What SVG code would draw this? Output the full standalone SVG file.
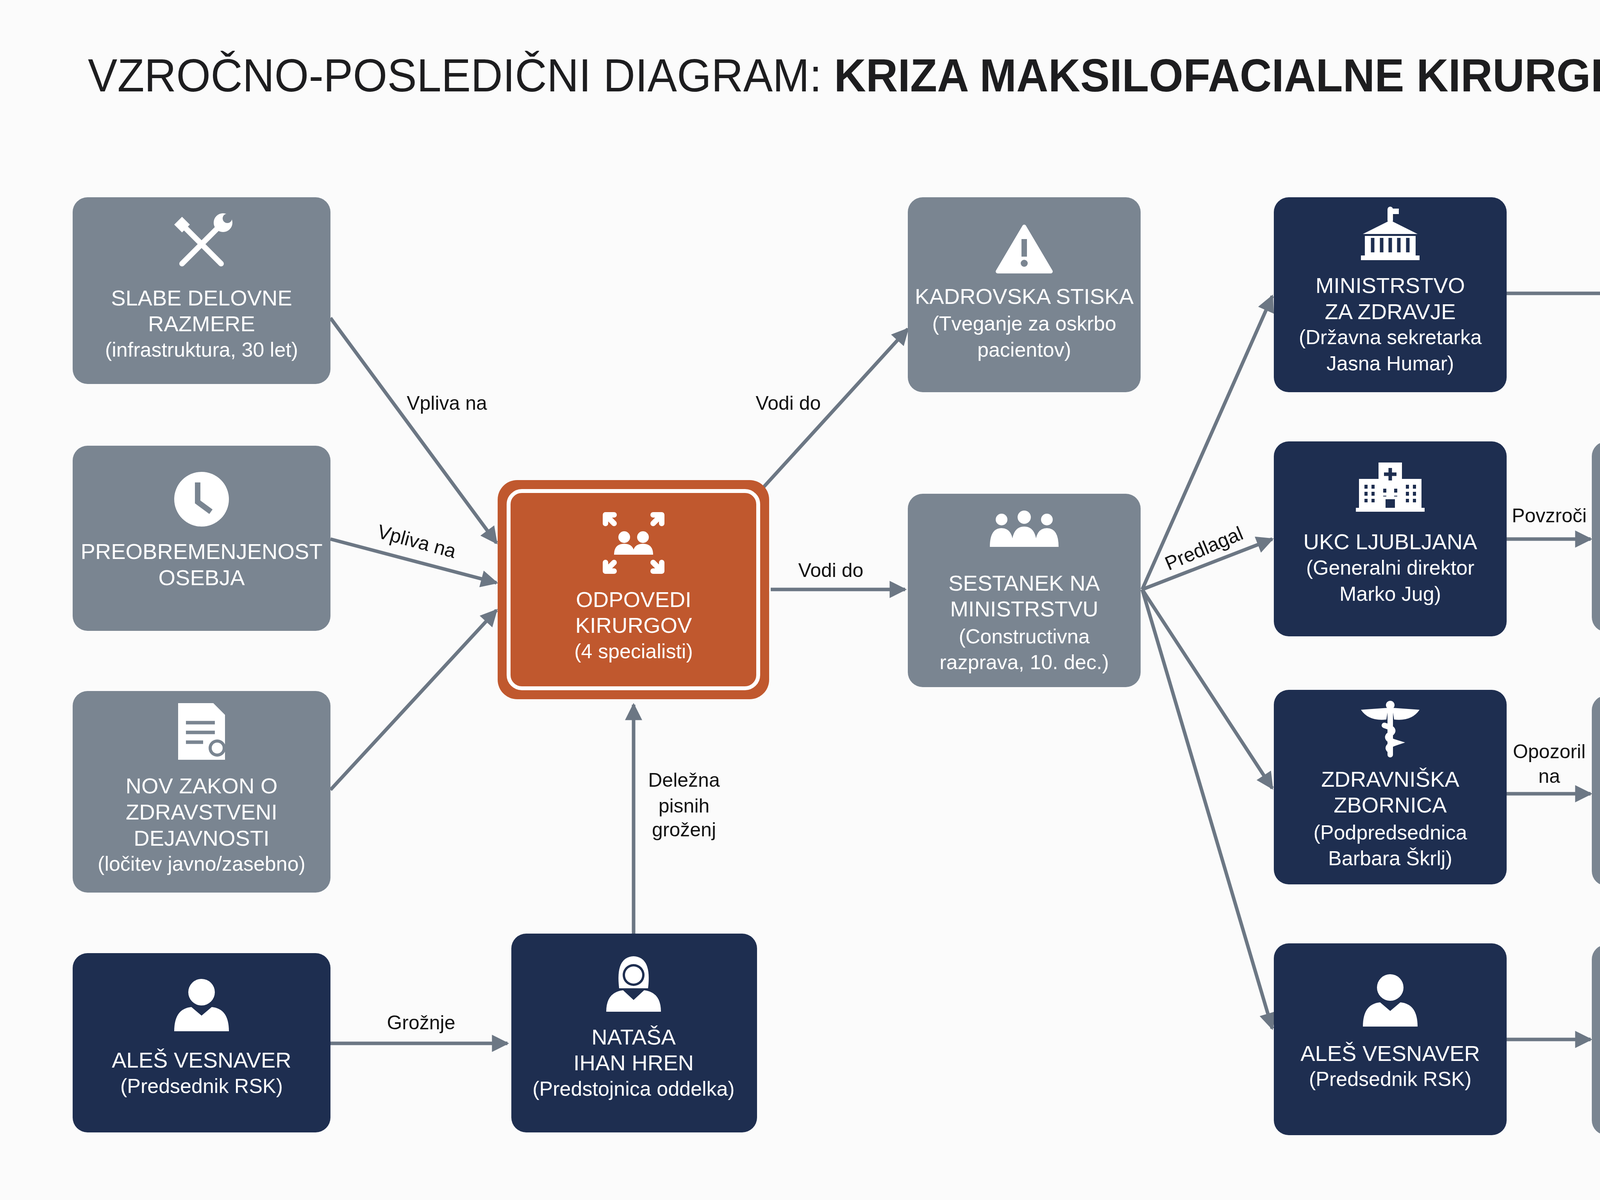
<svg xmlns="http://www.w3.org/2000/svg" width="5504" height="3072" viewBox="0 0 5504 3072">
<style>
.bg{fill:#fbfbfb}
.g{fill:#7a8591}
.d{fill:#1e2e50}
.t{font-family:"Liberation Sans",Arial,sans-serif;fill:#fff;text-anchor:middle;dominant-baseline:central;font-size:56px}
.s{font-size:52px}
.e{stroke:#6c7784;stroke-width:9;fill:none;marker-end:url(#ah)}
.l{font-family:"Liberation Sans",Arial,sans-serif;fill:#111;font-size:50px;text-anchor:middle;dominant-baseline:central}
.i{fill:#fff}
.is{stroke:#fff;fill:none;stroke-width:14;stroke-linecap:round}
</style>
<defs>
<marker id="ah" viewBox="0 0 10 10" refX="9" refY="5" markerUnits="userSpaceOnUse" markerWidth="48" markerHeight="44" orient="auto"><path d="M0,0 L10,5 L0,10 z" fill="#6c7784"/></marker>
</defs>
<rect class="bg" x="0" y="0" width="5504" height="3072"/>
<text x="2752" y="193" font-family="'Liberation Sans',Arial,sans-serif" font-size="118" fill="#1d1d1f" text-anchor="middle" dominant-baseline="central" textLength="5054" lengthAdjust="spacingAndGlyphs">VZROČNO-POSLEDIČNI DIAGRAM: <tspan font-weight="bold">KRIZA MAKSILOFACIALNE KIRURGIJE</tspan> V UKC LJUBLJANA</text>

<g id="connectors">
<line class="e" x1="846" y1="814" x2="1271" y2="1390"/>
<line class="e" x1="846" y1="1380" x2="1271" y2="1492"/>
<line class="e" x1="846" y1="2022" x2="1271" y2="1562"/>
<line class="e" x1="846" y1="2671" x2="1299" y2="2671"/>
<line class="e" x1="1622" y1="2390" x2="1622" y2="1804"/>
<line class="e" x1="1952" y1="1250" x2="2324" y2="842"/>
<line class="e" x1="1973" y1="1509" x2="2317" y2="1509"/>
<line class="e" x1="2924" y1="1509" x2="3257" y2="758"/>
<line class="e" x1="2924" y1="1509" x2="3257" y2="1380"/>
<line class="e" x1="2924" y1="1509" x2="3257" y2="2018"/>
<line class="e" x1="2924" y1="1509" x2="3257" y2="2633"/>
<line class="e" x1="3857" y1="751" x2="4718" y2="751"/>
<line class="e" x1="3857" y1="1380" x2="4072" y2="1380"/>
<line class="e" x1="3857" y1="2032" x2="4072" y2="2032"/>
<line class="e" x1="3857" y1="2661" x2="4072" y2="2661"/>
<line class="e" x1="4630" y1="1474" x2="4939" y2="2406"/>
<line class="e" x1="4633" y1="2018" x2="4939" y2="2406"/>
<line class="e" x1="5026" y1="2408" x2="5026" y2="1009"/>
<line class="e" x1="5079" y1="1007" x2="5079" y2="2406"/>
<text class="l" x="1144" y="1032">Vpliva na</text>
<text class="l" x="1067" y="1386" transform="rotate(15 1067 1386)">Vpliva na</text>
<text class="l" x="1078" y="2618">Grožnje</text>
<text class="l" x="1751" y="1997">Deležna</text>
<text class="l" x="1751" y="2063">pisnih</text>
<text class="l" x="1751" y="2124">groženj</text>
<text class="l" x="2018" y="1032">Vodi do</text>
<text class="l" x="2127" y="1460">Vodi do</text>
<text class="l" x="3082" y="1404" transform="rotate(-23 3082 1404)">Predlagal</text>
<text class="l" x="3966" y="1320">Povzroči</text>
<text class="l" x="3966" y="1924">Opozoril</text>
<text class="l" x="3966" y="1987">na</text>
<text class="l" x="4826" y="1176">Poziv</text>
<text class="l" x="4826" y="1238">odločevalcem</text>
<text class="l" x="4865" y="1643">Potencialna</text>
<text class="l" x="4865" y="1706">rešitev</text>
<text class="l" x="5195" y="1643">Iskanje</text>
<text class="l" x="5195" y="1706">rešitev</text>
<text class="l" x="4800" y="2130" transform="rotate(55 4800 2130)">Poziv</text>
<text class="l" x="4760" y="2170" transform="rotate(55 4760 2170)">odločevalcem</text>
</g>

<g id="n1">
<rect class="g" x="186" y="505" width="660" height="478" rx="38"/>
<g transform="translate(516 625)"><path class="is" d="M-45,-45 L50,50" stroke-width="22"/><path class="is" d="M45,-45 L-50,50" stroke-width="18"/><circle class="i" cx="55" cy="-55" r="24"/><circle cx="66" cy="-66" r="12" fill="#7a8591"/><path class="i" d="M-70,-50 L-50,-70 L-30,-50 L-50,-30 z"/></g>
<text class="t" x="516" y="762">SLABE DELOVNE</text><text class="t" x="516" y="828">RAZMERE</text><text class="t s" x="516" y="895">(infrastruktura, 30 let)</text>
</g>
<g id="n2">
<rect class="g" x="186" y="1141" width="660" height="474" rx="38"/>
<circle class="i" cx="516" cy="1278" r="70"/><path d="M506,1235 L506,1285 L540,1310" stroke="#7a8591" stroke-width="14" fill="none"/>
<text class="t" x="516" y="1411">PREOBREMENJENOST</text><text class="t" x="516" y="1478">OSEBJA</text>
</g>
<g id="n3">
<rect class="g" x="186" y="1769" width="660" height="516" rx="38"/>
<path class="i" d="M456,1800 L546,1800 L576,1830 L576,1945 L456,1945 z"/><path d="M476,1850 H550 M476,1875 H550 M476,1900 H520" stroke="#7a8591" stroke-width="9"/><circle cx="556" cy="1915" r="22" fill="#7a8591"/><circle class="i" cx="556" cy="1915" r="14"/>
<text class="t" x="516" y="2011">NOV ZAKON O</text><text class="t" x="516" y="2078">ZDRAVSTVENI</text><text class="t" x="516" y="2145">DEJAVNOSTI</text><text class="t s" x="516" y="2211">(ločitev javno/zasebno)</text>
</g>
<g id="n4">
<rect class="d" x="186" y="2440" width="660" height="459" rx="38"/>
<circle class="i" cx="516" cy="2540" r="34"/><path class="i" d="M446,2640 Q446,2582 490,2578 L516,2600 L542,2578 Q586,2582 586,2640 z"/>
<text class="t" x="516" y="2713">ALEŠ VESNAVER</text><text class="t s" x="516" y="2780">(Predsednik RSK)</text>
</g>
<g id="n5">
<rect x="1274" y="1229" width="695" height="561" rx="50" fill="#c0582e"/>
<rect x="1302" y="1257" width="639" height="505" rx="34" fill="none" stroke="#fff" stroke-width="10"/>
<g transform="translate(1622 1390)"><circle class="i" cx="-24" cy="-15" r="15"/><circle class="i" cx="24" cy="-15" r="15"/><path class="i" d="M-50,30 Q-50,2 -24,2 Q2,2 2,30 z M-2,30 Q-2,2 24,2 Q50,2 50,30 z"/><path class="is" stroke-width="9" d="M-50,-50 L-72,-72 M50,-50 L72,-72 M-50,50 L-72,72 M50,50 L72,72 M-72,-72 h22 M-72,-72 v22 M72,-72 h-22 M72,-72 v22 M-72,72 h22 M-72,72 v-22 M72,72 h-22 M72,72 v-22"/></g>
<text class="t" x="1622" y="1534">ODPOVEDI</text><text class="t" x="1622" y="1600">KIRURGOV</text><text class="t s" x="1622" y="1667">(4 specialisti)</text>
</g>
<g id="n6">
<rect class="d" x="1309" y="2390" width="629" height="509" rx="38"/>
<path class="i" d="M1585,2530 Q1575,2450 1622,2448 Q1669,2450 1659,2530 z"/><circle cx="1622" cy="2496" r="28" fill="#1e2e50"/><circle class="i" cx="1622" cy="2496" r="22"/><path class="i" d="M1552,2590 Q1552,2540 1595,2535 L1622,2560 L1649,2535 Q1692,2540 1692,2590 z"/>
<text class="t" x="1622" y="2654">NATAŠA</text><text class="t" x="1622" y="2720">IHAN HREN</text><text class="t s" x="1622" y="2787">(Predstojnica oddelka)</text>
</g>
<g id="n7">
<rect class="g" x="2324" y="505" width="596" height="499" rx="38"/>
<path class="i" d="M2622,580 L2690,695 L2554,695 z" stroke="#fff" stroke-width="10" stroke-linejoin="round"/><rect x="2615" y="612" width="14" height="45" fill="#7a8591"/><circle cx="2622" cy="674" r="9" fill="#7a8591"/>
<text class="t" x="2622" y="758">KADROVSKA STISKA</text><text class="t s" x="2622" y="828">(Tveganje za oskrbo</text><text class="t s" x="2622" y="895">pacientov)</text>
</g>
<g id="n8">
<rect class="g" x="2324" y="1264" width="596" height="495" rx="38"/>
<g transform="translate(2622 1362)"><circle class="i" cx="-58" cy="-32" r="15"/><circle class="i" cx="0" cy="-38" r="17"/><circle class="i" cx="58" cy="-32" r="15"/><path class="i" d="M-88,38 Q-88,-10 -58,-10 Q-28,-10 -28,38 z M-32,38 Q-32,-14 0,-14 Q32,-14 32,38 z M28,38 Q28,-10 58,-10 Q88,-10 88,38 z"/></g>
<text class="t" x="2622" y="1492">SESTANEK NA</text><text class="t" x="2622" y="1558">MINISTRSTVU</text><text class="t s" x="2622" y="1629">(Constructivna</text><text class="t s" x="2622" y="1695">razprava, 10. dec.)</text>
</g>
<g id="n9">
<rect class="d" x="3261" y="505" width="596" height="499" rx="38"/>
<g transform="translate(3559 614)"><path class="i" d="M-70,-15 L0,-50 L70,-15 z"/><rect class="i" x="-65" y="-10" width="130" height="50"/><path d="M-45,-5 V32 M-22,-5 V32 M0,-5 V32 M22,-5 V32 M45,-5 V32" stroke="#1e2e50" stroke-width="9"/><rect class="i" x="-75" y="40" width="150" height="12"/><path class="is" stroke-width="5" d="M0,-50 V-78"/><path class="i" d="M0,-80 h22 v14 h-22z"/></g>
<text class="t" x="3559" y="730">MINISTRSTVO</text><text class="t" x="3559" y="797">ZA ZDRAVJE</text><text class="t s" x="3559" y="863">(Državna sekretarka</text><text class="t s" x="3559" y="930">Jasna Humar)</text>
</g>
<g id="n10">
<rect class="d" x="3261" y="1130" width="596" height="499" rx="38"/>
<g transform="translate(3559 1246)"><rect class="i" x="-30" y="-62" width="60" height="120"/><rect class="i" x="-80" y="-20" width="160" height="78"/><rect class="i" x="-88" y="54" width="176" height="10"/><path d="M0,-48 V-16 M-16,-32 H16" stroke="#1e2e50" stroke-width="9"/><path d="M-62,-5 V40 M-44,-5 V40 M44,-5 V40 M62,-5 V40 M-14,5 V25 M14,5 V25" stroke="#1e2e50" stroke-width="8" stroke-dasharray="10 8"/><rect x="-12" y="32" width="24" height="22" fill="#1e2e50"/></g>
<text class="t" x="3559" y="1386">UKC LJUBLJANA</text><text class="t s" x="3559" y="1453">(Generalni direktor</text><text class="t s" x="3559" y="1520">Marko Jug)</text>
</g>
<g id="n11">
<rect class="d" x="3261" y="1766" width="596" height="498" rx="38"/>
<g transform="translate(3559 1867)"><path class="i" d="M-5,-55 L-75,-50 Q-55,-20 -10,-25 z M5,-55 L75,-50 Q55,-20 10,-25 z"/><path class="is" stroke-width="8" d="M0,-60 V65 M-15,-10 Q18,0 0,12 Q-18,24 15,34 Q-15,44 0,55"/><circle class="i" cx="0" cy="-62" r="11"/></g>
<text class="t" x="3559" y="1994">ZDRAVNIŠKA</text><text class="t" x="3559" y="2060">ZBORNICA</text><text class="t s" x="3559" y="2131">(Podpredsednica</text><text class="t s" x="3559" y="2197">Barbara Škrlj)</text>
</g>
<g id="n12">
<rect class="d" x="3261" y="2415" width="596" height="491" rx="38"/>
<circle class="i" cx="3559" cy="2528" r="34"/><path class="i" d="M3489,2628 Q3489,2570 3533,2566 L3559,2588 L3585,2566 Q3629,2570 3629,2628 z"/>
<text class="t" x="3559" y="2696">ALEŠ VESNAVER</text><text class="t s" x="3559" y="2762">(Predsednik RSK)</text>
</g>
<g id="n13">
<rect class="g" x="4075" y="1130" width="555" height="488" rx="38"/>
<rect x="4287" y="1160" width="132" height="90" rx="6" fill="none" stroke="#fff" stroke-width="12"/><path d="M4307,1190 H4380 M4307,1212 H4360" stroke="#fff" stroke-width="8"/><circle class="i" cx="4395" cy="1225" r="17"/>
<text class="t" x="4352" y="1309">POZIV</text><text class="t" x="4352" y="1376">ZA PRIDOBITEV</text><text class="t" x="4352" y="1443">NAZIVA SVETNIK</text><text class="t s" x="4352" y="1509">(Nove možnosti</text><text class="t s" x="4352" y="1576">zaposlovanja)</text>
</g>
<g id="n14">
<rect class="g" x="4075" y="1780" width="555" height="488" rx="38"/>
<path class="i" d="M4352,1818 L4420,1935 L4284,1935 z" stroke="#fff" stroke-width="10" stroke-linejoin="round"/><rect x="4345" y="1850" width="14" height="45" fill="#7a8591"/><circle cx="4352" cy="1913" r="9" fill="#7a8591"/>
<text class="t" x="4352" y="1994">OPOZORILO NA</text><text class="t" x="4352" y="2060">POSLEDICE</text><text class="t s" x="4352" y="2131">(Edini oddelek za</text><text class="t s" x="4352" y="2197">težke primere)</text>
</g>
<g id="n15">
<rect class="g" x="4075" y="2418" width="555" height="488" rx="38"/>
<ellipse class="i" cx="4340" cy="2510" rx="48" ry="34"/><path class="i" d="M4310,2535 L4300,2565 L4335,2540 z"/><ellipse class="i" cx="4390" cy="2540" rx="40" ry="28" stroke="#7a8591" stroke-width="8"/><path class="i" d="M4405,2560 L4420,2580 L4385,2565 z"/>
<text class="t" x="4352" y="2650">KRITIKA ZAKONA</text><text class="t" x="4352" y="2717">&amp; RAZMER</text><text class="t s" x="4352" y="2787">(Unikum Slovenije)</text>
</g>
<g id="n16">
<rect class="g" x="4721" y="505" width="597" height="499" rx="38"/>
<rect x="4962" y="580" width="116" height="104" rx="10" fill="none" stroke="#fff" stroke-width="12"/><rect class="i" x="4962" y="580" width="116" height="24"/><path d="M4990,565 V590 M5050,565 V590" stroke="#fff" stroke-width="12"/><path d="M4980,625 H5060 M4980,648 H5060 M4980,670 H5040" stroke="#fff" stroke-width="11" stroke-dasharray="12 8"/>
<text class="t" x="5020" y="755">NADALJEVANJE</text><text class="t" x="5020" y="821">POGOVOROV</text><text class="t s" x="5020" y="888">(Prvi teden januarja)</text>
</g>
<g id="n17">
<rect class="g" x="4763" y="2411" width="555" height="488" rx="38"/>
<g transform="translate(5040 2510)"><path class="i" d="M-90,-20 L-55,-40 L-10,-25 L15,-40 L50,-40 L90,-20 L70,20 L20,50 L-20,40 L-70,10 z"/><path d="M-10,-25 L-35,0 Q-20,10 0,-5 L35,25 M15,10 L25,35 M0,20 L10,40" stroke="#7a8591" stroke-width="6" fill="none"/></g>
<text class="t" x="5040" y="2629">MOŽNOST ZA</text><text class="t" x="5040" y="2696">OSTANEK KIRURGOV</text><text class="t s" x="5040" y="2762">(Odvisno od</text><text class="t s" x="5040" y="2829">odločevalcev)</text>
</g>
</svg>
